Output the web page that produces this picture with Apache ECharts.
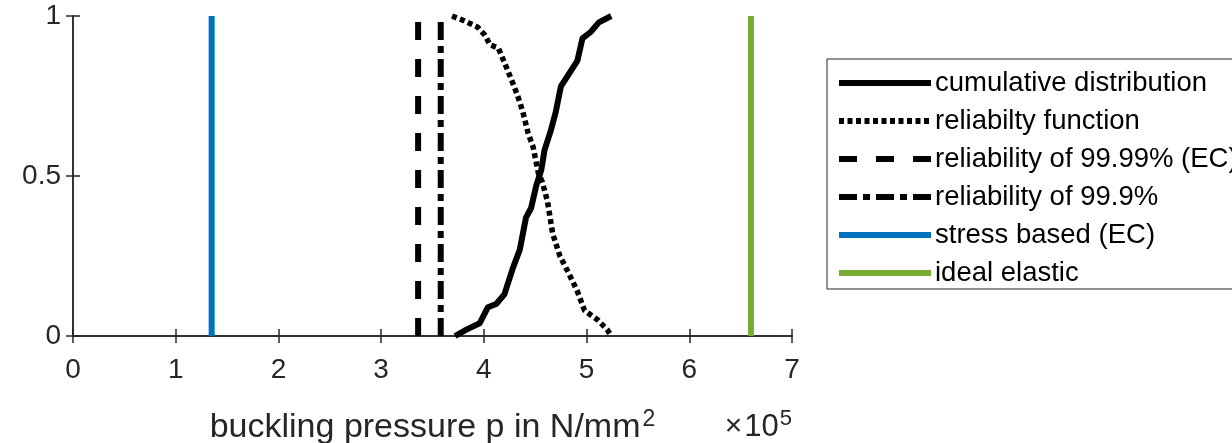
<!DOCTYPE html>
<html>
<head>
<meta charset="utf-8">
<script src="https://cdn.jsdelivr.net/npm/echarts@6/dist/echarts.min.js"></script>
<style>
  html, body { margin: 0; padding: 0; background: #fff; }
  #chart { width: 1232px; height: 443px; }
</style>
</head>
<body>
<div id="chart"></div>
<script>
// buckling pressure in N/mm^2
const cdfX = [372000, 383000, 396000, 404000, 412000, 420000, 428000, 435000, 441000, 446000, 451000, 456000, 459000, 465000, 470000, 475000, 483000, 491000, 496000, 504000, 512000, 524000];
const cdfY = [0.00, 0.02, 0.04, 0.09, 0.10, 0.13, 0.21, 0.27, 0.37, 0.40, 0.47, 0.52, 0.58, 0.64, 0.70, 0.78, 0.82, 0.86, 0.93, 0.95, 0.98, 1.00];
const relX = [369000, 381000, 394000, 401000, 406000, 414000, 420000, 427000, 433000, 438000, 443000, 448000, 453000, 457000, 462000, 467000, 474000, 482000, 491000, 498000, 511000, 520000, 524000];
const relY = [1.00, 0.985, 0.965, 0.94, 0.91, 0.90, 0.855, 0.80, 0.75, 0.70, 0.635, 0.59, 0.51, 0.48, 0.42, 0.32, 0.25, 0.20, 0.14, 0.08, 0.05, 0.02, 0.00];
const p9999 = 336000;   // reliability of 99.99% (EC)
const p999 = 358000;    // reliability of 99.9%
const pStress = 135000; // stress based (EC)
const pElastic = 660000; // ideal elastic
const xTicks = [0, 1, 2, 3, 4, 5, 6, 7];
const yTicks = [0, 0.5, 1];

const names = ['cumulative distribution', 'reliabilty function', 'reliability of 99.99% (EC)',
  'reliability of 99.9%', 'stress based (EC)', 'ideal elastic'];

const axisColor = '#262626';
const font = 'Liberation Sans, Arial, sans-serif';

const chart = echarts.init(document.getElementById('chart'));

function pairs(xs, ys) {
  return xs.map((x, i) => [x, ys[i]]);
}
function vline(x) {
  return [[x, 0], [x, 1]];
}

const option = {
  animation: false,
  grid: { left: 73, right: 440, top: 16, bottom: 107, outerBoundsMode: 'none' },
  legend: {
    orient: 'vertical',
    left: 827,
    top: 59,
    padding: [10, 20, 2, 9],
    itemWidth: 92,
    itemHeight: 24,
    itemGap: 10,
    borderColor: axisColor,
    borderWidth: 1,
    lineStyle: { width: 6 },
    itemStyle: { color: 'rgba(0,0,0,0)', borderWidth: 0, opacity: 0 },
    textStyle: { fontFamily: font, fontSize: 27.5, color: '#000', padding: [0, 0, 0, -1] },
    data: names
  },
  xAxis: [{
    type: 'value', min: 0, max: 700000, interval: 100000,
    axisLine: { lineStyle: { color: axisColor, width: 1.5 } },
    axisTick: { inside: true, length: 7, lineStyle: { color: axisColor, width: 1.5 } },
    axisLabel: { margin: 20, fontFamily: font, fontSize: 28, color: axisColor,
      formatter: v => String(xTicks[Math.round(v / 100000)]) },
    splitLine: { show: false },
    name: '{a|buckling pressure p in N/mm}{s|2}',
    nameLocation: 'middle',
    nameGap: 72,
    nameTextStyle: {
      rich: {
        a: { fontFamily: font, fontSize: 34, color: axisColor },
        s: { fontFamily: font, fontSize: 23, color: axisColor, verticalAlign: 'top', padding: [0, 0, 17, 2] }
      }
    }
  }, {
    type: 'value', position: 'top', min: 0, max: 700000, interval: 100000,
    axisLine: { lineStyle: { color: axisColor, width: 1.5 } },
    axisTick: { inside: true, length: 7, lineStyle: { color: axisColor, width: 1.5 } },
    axisLabel: { show: false },
    splitLine: { show: false }
  }],
  yAxis: [{
    type: 'value', min: 0, max: 1, interval: 0.5,
    axisLine: { show: true, lineStyle: { color: axisColor, width: 1.5 } },
    axisTick: { show: true, inside: true, length: 7, lineStyle: { color: axisColor, width: 1.5 } },
    axisLabel: { margin: 12, fontFamily: font, fontSize: 28, color: axisColor,
      formatter: v => String(yTicks[Math.round(v * 2)]) },
    splitLine: { show: false }
  }, {
    type: 'value', position: 'right', min: 0, max: 1, interval: 0.5,
    axisLine: { show: true, lineStyle: { color: axisColor, width: 1.5 } },
    axisTick: { show: true, inside: true, length: 7, lineStyle: { color: axisColor, width: 1.5 } },
    axisLabel: { show: false },
    splitLine: { show: false }
  }],
  graphic: [{
    type: 'text',
    right: 1232 - 792,
    top: 408,
    style: {
      text: '{x|×}{a|10}{s|5}',
      rich: {
        x: { fontFamily: font, fontSize: 30, fill: axisColor, padding: [0, 2, 0, 0] },
        a: { fontFamily: font, fontSize: 31, fill: axisColor },
        s: { fontFamily: font, fontSize: 22, fill: axisColor, verticalAlign: 'top', padding: [0, 0, 16, 1] }
      }
    }
  }],
  series: [
    { name: names[0], type: 'line', symbol: 'none', data: pairs(cdfX, cdfY),
      lineStyle: { color: '#000', width: 6 }, itemStyle: { color: '#000' } },
    { name: names[1], type: 'line', symbol: 'none', data: pairs(relX, relY),
      lineStyle: { color: '#000', width: 5.5, type: [5, 3.5] }, itemStyle: { color: '#000' } },
    { name: names[2], type: 'line', symbol: 'none', data: vline(p9999),
      lineStyle: { color: '#000', width: 6, type: [18, 19] }, itemStyle: { color: '#000' } },
    { name: names[3], type: 'line', symbol: 'none', data: vline(p999),
      lineStyle: { color: '#000', width: 6, type: [18, 6, 7, 6] }, itemStyle: { color: '#000' } },
    { name: names[4], type: 'line', symbol: 'none', data: vline(pStress),
      lineStyle: { color: '#0072BD', width: 6 }, itemStyle: { color: '#0072BD' } },
    { name: names[5], type: 'line', symbol: 'none', data: vline(pElastic),
      lineStyle: { color: '#77AC30', width: 6 }, itemStyle: { color: '#77AC30' } }
  ]
};

chart.setOption(option);
</script>
</body>
</html>
